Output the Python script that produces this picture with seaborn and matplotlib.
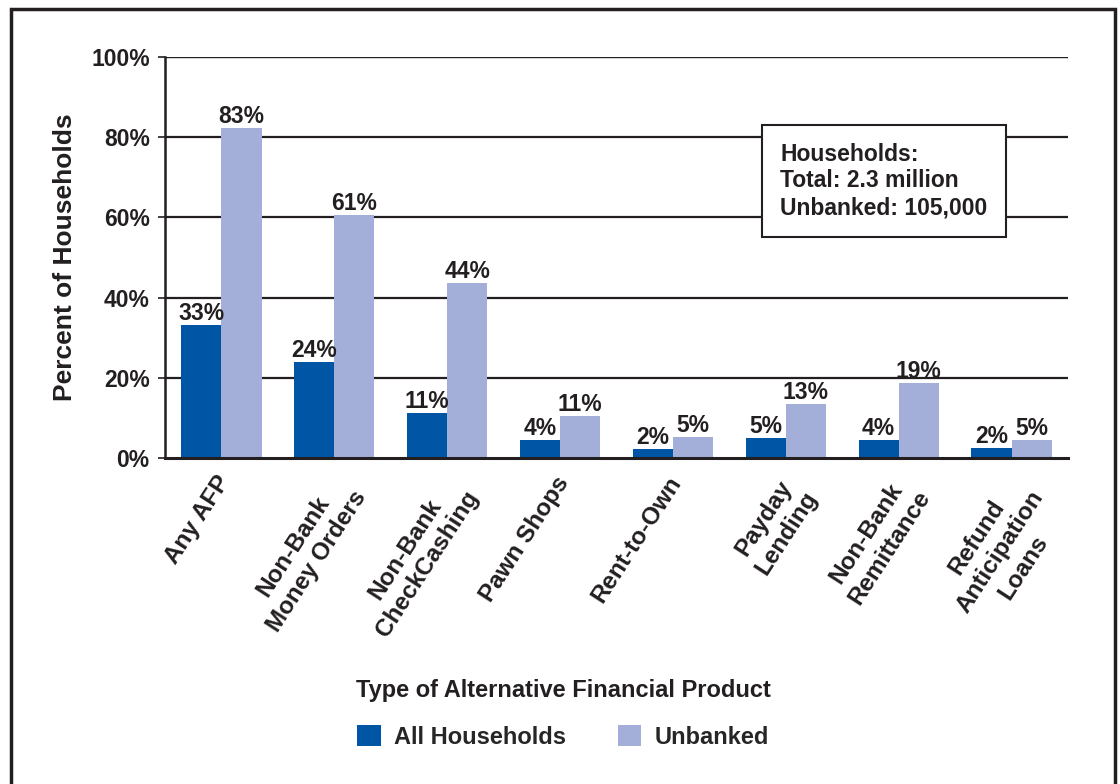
import matplotlib
matplotlib.use("Agg")
import matplotlib.pyplot as plt
import matplotlib.transforms as mtrans
import seaborn as sns
import pandas as pd
from matplotlib.patches import Rectangle, Patch

categories = ["Any AFP", "Non-Bank\nMoney Orders", "Non-Bank\nCheckCashing", "Pawn Shops",
              "Rent-to-Own", "Payday\nLending", "Non-Bank\nRemittance",
              "Refund\nAnticipation\nLoans"]
all_households = [33.2, 23.9, 11.2, 4.5, 2.2, 5.0, 4.5, 2.5]
unbanked = [82.3, 60.6, 43.6, 10.5, 5.2, 13.5, 18.7, 4.5]
all_labels = ["33%", "24%", "11%", "4%", "2%", "5%", "4%", "2%"]
unb_labels = ["83%", "61%", "44%", "11%", "5%", "13%", "19%", "5%"]
series = ["All Households", "Unbanked"]
yticks = [0, 20, 40, 60, 80, 100]
ytick_labels = ["0%", "20%", "40%", "60%", "80%", "100%"]

colors = {"All Households": "#0055A5", "Unbanked": "#A3AED9"}

df = pd.DataFrame({
    "cat": categories * 2,
    "val": all_households + unbanked,
    "series": [series[0]] * len(categories) + [series[1]] * len(categories),
})

sns.set_theme(style="white")
plt.rcParams["font.family"] = ["Liberation Sans", "DejaVu Sans"]
plt.rcParams["font.weight"] = "bold"
TXT = "#231F20"

fig = plt.figure(figsize=(11.2, 7.84), dpi=100)
ax = fig.add_axes([165 / 1120, 1 - 458 / 784, (1068 - 165) / 1120, (458 - 57) / 784])

sns.barplot(data=df, x="cat", y="val", hue="series", palette=colors, ax=ax,
            width=0.71, saturation=1, legend=False, edgecolor="none", linewidth=0)

ax.set_ylim(0, 100)
ax.set_xlim(-0.5, len(categories) - 0.5)
ax.set_yticks(yticks)
ax.set_yticklabels(ytick_labels, fontsize=16.5, fontweight="bold", color=TXT)
for y in [20, 40, 60, 80]:
    ax.axhline(y, color=TXT, lw=1.6, zorder=0)
ax.axhline(100, color=TXT, lw=1.0, zorder=0)

for s in ["top", "right"]:
    ax.spines[s].set_visible(False)
ax.spines["left"].set_color(TXT)
ax.spines["left"].set_linewidth(1.8)
ax.spines["bottom"].set_color(TXT)
ax.spines["bottom"].set_linewidth(2.2)
ax.tick_params(axis="y", left=True, length=5, width=1.2, color=TXT, pad=6)
ax.tick_params(axis="x", bottom=False, pad=4)

ax.set_xticks(range(len(categories)))
ax.set_xticklabels(categories, rotation=57, ha="right", rotation_mode="anchor",
                   fontsize=17.5, fontweight="bold", color=TXT, multialignment="center",
                   linespacing=1.25)
offset = mtrans.ScaledTranslation(-6 / 100, 0, fig.dpi_scale_trans)
for lbl in ax.get_xticklabels():
    lbl.set_transform(lbl.get_transform() + offset)
ax.set_xlabel("")
ax.set_ylabel("Percent of Households", fontsize=19, fontweight="bold", color=TXT, labelpad=10)

for container, labels in zip(ax.containers, [all_labels, unb_labels]):
    ax.bar_label(container, labels=labels, fontsize=16.5, fontweight="bold", color=TXT, padding=0)

ax.text((780 - 165) / 903, (458 - 181) / 401, "Households:\nTotal: 2.3 million\nUnbanked: 105,000",
        transform=ax.transAxes, fontsize=16.5, fontweight="bold", color=TXT,
        va="center", ha="left", linespacing=1.2,
        bbox=dict(boxstyle="square,pad=0.8", fc="white", ec=TXT, lw=1.5))

fig.text(563 / 1120, 1 - 690 / 784, "Type of Alternative Financial Product",
         ha="center", va="center", fontsize=17, fontweight="bold", color=TXT)

handles = [Patch(facecolor=colors[s], edgecolor="none") for s in series]
fig.legend(handles, series, loc="center", bbox_to_anchor=(563 / 1120, 1 - 737 / 784),
           ncol=2, frameon=False, handlelength=1.0, handleheight=1.0,
           columnspacing=2.2, handletextpad=0.55, prop={"weight": "bold", "size": 17})

fig.patches.append(Rectangle((11 / 1120, -0.05), (1115 - 11) / 1120, 1.05 - 9 / 784,
                             transform=fig.transFigure, fill=False, ec=TXT, lw=2.5))

fig.savefig("out.png", dpi=100)
